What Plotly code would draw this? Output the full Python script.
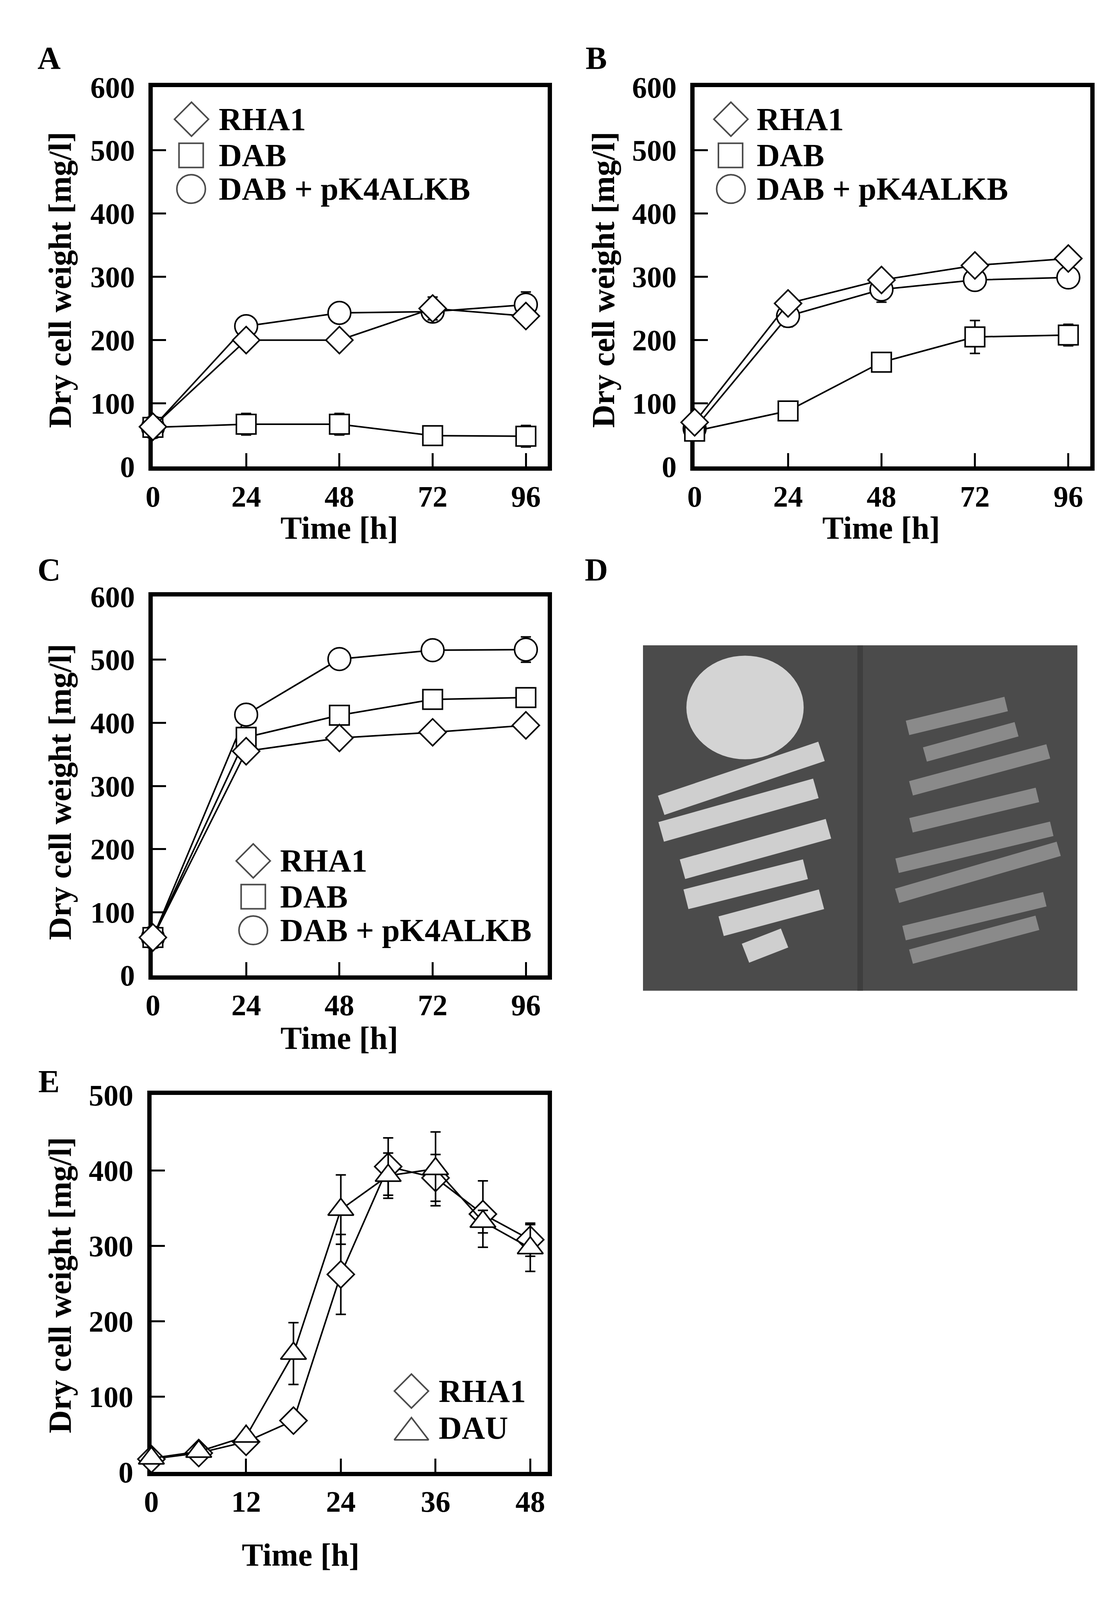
import plotly.graph_objects as go

W, H = 2844, 4228

# time points
t_abc = [0, 24, 48, 72, 96]
t_e = [0, 6, 12, 18, 24, 30, 36, 42, 48]

# panel A
a_rha1 = [63, 200, 200, 250, 238]
a_rha1_err = [0, 0, 0, 18, 0]
a_dab = [62, 67, 67, 49, 48]
a_dab_err = [0, 17, 17, 5, 17]
a_pk4 = [62, 222, 243, 245, 256]
a_pk4_err = [0, 5, 5, 8, 20]

# panel B
b_rha1 = [70, 258, 295, 318, 329]
b_rha1_err = [0, 0, 0, 0, 0]
b_dab = [56, 88, 165, 205, 208]
b_dab_err = [0, 5, 15, 26, 17]
b_pk4 = [60, 238, 280, 295, 299]
b_pk4_err = [0, 17, 20, 5, 5]

# panel C
c_rha1 = [60, 355, 376, 385, 396]
c_rha1_err = [0, 0, 0, 0, 0]
c_dab = [60, 377, 412, 437, 440]
c_dab_err = [0, 0, 0, 0, 0]
c_pk4 = [60, 413, 501, 515, 516]
c_pk4_err = [0, 5, 12, 5, 20]

# panel E
e_rha1 = [17, 25, 40, 68, 262, 405, 390, 342, 308]
e_rha1_err = [0, 5, 5, 5, 53, 38, 31, 44, 22]
e_dau = [18, 27, 47, 157, 348, 393, 402, 332, 297]
e_dau_err = [0, 5, 5, 41, 46, 30, 49, 15, 31]

legend_abc = ["RHA1", "DAB", "DAB + pK4ALKB"]
legend_e = ["RHA1", "DAU"]

FONT = "Liberation Serif"
MSIZE = {"diamond": 53, "square": 50, "circle": 58, "triangle-up": 57}


def px(x):
    return x / W


def py(y):
    return 1 - y / H


def series(x, y, err, sym, xa, ya):
    return go.Scatter(
        x=x, y=y, xaxis=xa, yaxis=ya, mode="lines+markers",
        line=dict(color="black", width=4),
        marker=dict(symbol=sym, size=MSIZE[sym], color="white",
                    line=dict(color="black", width=4)),
        error_y=dict(type="data", array=err, color="black", thickness=4, width=13),
        cliponaxis=False, showlegend=False, hoverinfo="skip",
    )


fig = go.Figure()

# A, B, C : circle, square, diamond (diamond drawn on top)
panels = [
    ("x", "y", a_rha1, a_rha1_err, a_dab, a_dab_err, a_pk4, a_pk4_err),
    ("x2", "y2", b_rha1, b_rha1_err, b_dab, b_dab_err, b_pk4, b_pk4_err),
    ("x3", "y3", c_rha1, c_rha1_err, c_dab, c_dab_err, c_pk4, c_pk4_err),
]
for xa, ya, r, re, d, de, p, pe in panels:
    fig.add_trace(series(t_abc, p, pe, "circle", xa, ya))
    fig.add_trace(series(t_abc, d, de, "square", xa, ya))
    fig.add_trace(series(t_abc, r, re, "diamond", xa, ya))

# E
fig.add_trace(series(t_e, e_rha1, e_rha1_err, "diamond", "x4", "y4"))
fig.add_trace(series(t_e, e_dau, e_dau_err, "triangle-up", "x4", "y4"))

# legend symbols drawn on a full-page overlay axis
leg_sym = [
    (469, 271, "diamond", 67), (468, 369, "square", 62), (468, 460, "circle", 73),
    (1867, 271, "diamond", 67), (1866, 369, "square", 62), (1867, 460, "circle", 73),
    (629, 2280, "diamond", 67), (629, 2377, "square", 62), (629, 2468, "circle", 73),
    (1039, 3716, "diamond", 67), (1039, 3828, "triangle-up", 76),
]
fig.add_trace(go.Scatter(
    x=[s[0] for s in leg_sym], y=[s[1] for s in leg_sym], xaxis="x6", yaxis="y6",
    mode="markers",
    marker=dict(symbol=[s[2] for s in leg_sym], size=[s[3] for s in leg_sym],
                color="white", line=dict(color="black", width=4)),
    cliponaxis=False, showlegend=False, hoverinfo="skip",
))

tickfont = dict(family=FONT, size=76, color="black", weight="bold")


def xax(domain, rng, dtick, anchor):
    return dict(domain=domain, range=rng, dtick=dtick, tick0=0, showline=True, mirror=True,
                linewidth=11, linecolor="black", ticks="inside", ticklen=34, tickwidth=5,
                tickcolor="black", showgrid=False, zeroline=False, tickfont=tickfont,
                ticklabelstandoff=0, anchor=anchor, layer="below traces", fixedrange=True)


def yax(domain, rng, anchor):
    return dict(domain=domain, range=rng, dtick=100, tick0=0, showline=True, mirror=True,
                linewidth=11, linecolor="black", ticks="inside", ticklen=34, tickwidth=5,
                tickcolor="black", showgrid=False, zeroline=False, tickfont=tickfont,
                ticklabelstandoff=20, anchor=anchor, layer="below traces", fixedrange=True)


dom_ab = [py(1212), py(184)]
dom_c = [py(2590), py(1564)]
dom_e = [py(3935), py(2914)]

fig.update_layout(
    autosize=True, margin=dict(l=0, r=0, t=0, b=0),
    paper_bgcolor="white", plot_bgcolor="rgba(0,0,0,0)",
    xaxis=xax([px(369), px(1392)], [0, 101.6], 24, "y"),
    yaxis=yax(dom_ab, [0, 600], "x"),
    xaxis2=xax([px(1773), px(2798)], [0, 101.6], 24, "y2"),
    yaxis2=yax(dom_ab, [0, 600], "x2"),
    xaxis3=xax([px(369), px(1392)], [0, 101.6], 24, "y3"),
    yaxis3=yax(dom_c, [0, 600], "x3"),
    xaxis4=xax([px(365), px(1392)], [0, 50.2], 12, "y4"),
    yaxis4=yax(dom_e, [0, 500], "x4"),
    xaxis5=dict(domain=[px(1639), px(2765)], range=[0, 1], visible=False, anchor="y5", fixedrange=True),
    yaxis5=dict(domain=[py(2632), py(1696)], range=[0, 1], visible=False, anchor="x5", fixedrange=True),
    xaxis6=dict(domain=[0, 1], range=[0, W], visible=False, anchor="y6", fixedrange=True),
    yaxis6=dict(domain=[0, 1], range=[H, 0], visible=False, anchor="x6", fixedrange=True),
)

# panel D: sketch of the plate photograph
shapes = [dict(type="rect", xref="x5", yref="y5", x0=0, x1=1, y0=0, y1=1,
               fillcolor="#4b4b4b", line=dict(width=0), layer="below"),
          dict(type="line", xref="x5", yref="y5", x0=0.5, x1=0.5, y0=0, y1=1,
               line=dict(color="#3e3e3e", width=14), layer="below"),
          dict(type="circle", xref="x5", yref="y5", x0=0.10, x1=0.37, y0=0.67, y1=0.97,
               fillcolor="#d4d4d4", line=dict(width=0), layer="below")]
left_streaks = [(0.042, 0.537, 0.411, 0.693), (0.042, 0.460, 0.398, 0.586),
                (0.091, 0.352, 0.427, 0.469), (0.099, 0.265, 0.374, 0.352),
                (0.180, 0.187, 0.411, 0.265), (0.236, 0.109, 0.326, 0.153)]
right_streaks = [(0.609, 0.761, 0.836, 0.830), (0.649, 0.684, 0.860, 0.757),
                 (0.617, 0.586, 0.933, 0.693), (0.617, 0.479, 0.908, 0.567),
                 (0.585, 0.362, 0.941, 0.469), (0.585, 0.275, 0.957, 0.411),
                 (0.601, 0.167, 0.925, 0.265), (0.617, 0.099, 0.908, 0.197)]
for x0, y0, x1, y1 in left_streaks:
    shapes.append(dict(type="line", xref="x5", yref="y5", x0=x0, y0=y0, x1=x1, y1=y1,
                       line=dict(color="#cfcfcf", width=52), layer="below"))
for x0, y0, x1, y1 in right_streaks:
    shapes.append(dict(type="line", xref="x5", yref="y5", x0=x0, y0=y0, x1=x1, y1=y1,
                       line=dict(color="#8a8a8a", width=38), layer="below"))
fig.update_layout(shapes=shapes)

# texts: panel letters, axis titles, legend labels
big = dict(family=FONT, size=82, color="black", weight="bold")
ann = []
for letter, x, y in [("A", 100, 105), ("B", 1518, 105), ("C", 100, 1491),
                     ("D", 1518, 1491), ("E", 100, 2877)]:
    ann.append(dict(text=letter, x=px(x), y=py(y), font=big))
for x, y in [(852, 1378), (2256, 1378), (852, 2760), (752, 4160)]:
    ann.append(dict(text="Time [h]", x=px(x), y=py(y), font=big))
for x, y in [(128, 706), (1536, 706), (128, 2093), (128, 3429)]:
    ann.append(dict(text="Dry cell weight [mg/l]", x=px(x), y=py(y), font=big, textangle=-90))
for x0, ys in [(538, [271, 369, 460]), (1932, [271, 369, 460]), (697, [2280, 2377, 2468])]:
    for name, y in zip(legend_abc, ys):
        ann.append(dict(text=name, x=px(x0), y=py(y), xanchor="left", font=big))
for name, y in zip(legend_e, [3716, 3816]):
    ann.append(dict(text=name, x=px(1108), y=py(y), xanchor="left", font=big))
for a in ann:
    a.setdefault("xanchor", "center")
    a.update(xref="paper", yref="paper", yanchor="middle", showarrow=False)
fig.update_layout(annotations=ann)

fig.write_html("out.html", config={"displayModeBar": False, "responsive": True},
               default_width="calc(100vw - 16px)", default_height="calc(100vh - 16px)")
